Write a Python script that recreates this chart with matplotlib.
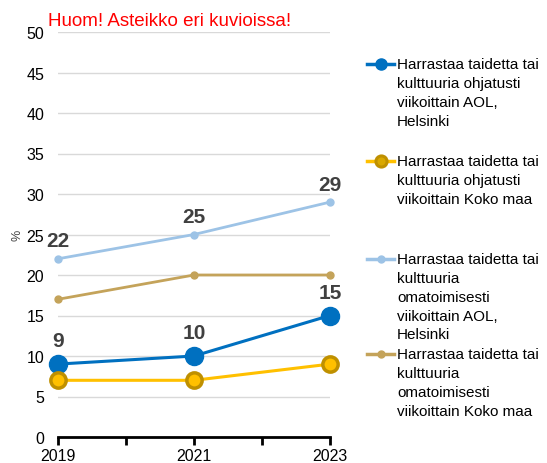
import matplotlib.pyplot as plt
from matplotlib.lines import Line2D

plt.rcParams['font.family'] = ['Liberation Sans', 'DejaVu Sans']

years = [2019, 2021, 2023]
aol_ohjatusti = [9, 10, 15]
koko_ohjatusti = [7, 7, 9]
aol_omatoim = [22, 25, 29]
koko_omatoim = [17, 20, 20]

labels = [
    'Harrastaa taidetta tai\nkulttuuria ohjatusti\nviikoittain AOL,\nHelsinki',
    'Harrastaa taidetta tai\nkulttuuria ohjatusti\nviikoittain Koko maa',
    'Harrastaa taidetta tai\nkulttuuria\nomatoimisesti\nviikoittain AOL,\nHelsinki',
    'Harrastaa taidetta tai\nkulttuuria\nomatoimisesti\nviikoittain Koko maa',
]

blue = '#0070C0'
yellow = '#FFC000'
gold = '#BF9000'
light = '#9DC3E6'
tan = '#C4A35A'

fig = plt.figure(figsize=(5.47, 4.64), dpi=100)
ax = fig.add_axes([58 / 547, 26 / 464, 272 / 547, 405 / 464])

ax.plot(years, aol_omatoim, color=light, lw=2, marker='o', ms=5, clip_on=False, zorder=3)
ax.plot(years, koko_omatoim, color=tan, lw=2, marker='o', ms=5, clip_on=False, zorder=3)
ax.plot(years, aol_ohjatusti, color=blue, lw=2.2, marker='o', ms=13, clip_on=False, zorder=4)
ax.plot(years, koko_ohjatusti, color=yellow, lw=2.2, marker='o', ms=11, mfc=yellow,
        mec=gold, mew=2.5, clip_on=False, zorder=5)

for x, v in zip(years, aol_omatoim):
    ax.annotate(str(v), (x, v), xytext=(0, 6), textcoords='offset points', ha='center',
                va='bottom', fontsize=15, fontweight='bold', color='#404040')
for x, v in zip(years, aol_ohjatusti):
    ax.annotate(str(v), (x, v), xytext=(0, 10), textcoords='offset points', ha='center',
                va='bottom', fontsize=15, fontweight='bold', color='#404040')

ax.set_xlim(2019, 2023)
ax.set_ylim(0, 50)
ax.set_yticks(range(0, 51, 5))
ax.set_xticks([2019, 2020, 2021, 2022, 2023])
ax.set_xticklabels(['2019', '', '2021', '', '2023'])
ax.grid(axis='y', color='#D9D9D9', lw=1)
ax.set_axisbelow(True)
for s in ['top', 'right', 'left']:
    ax.spines[s].set_visible(False)
ax.spines['bottom'].set_linewidth(2)
ax.tick_params(axis='y', length=0, labelsize=11.5, pad=10)
ax.tick_params(axis='x', length=6, width=2, labelsize=11.5, pad=2)
ax.set_ylabel('%', fontsize=9, color='#404040', labelpad=2)

fig.text(48 / 547, 1 - 22 / 464, 'Huom! Asteikko eri kuvioissa!', color='red',
         fontsize=13.5, va='center', ha='left')

# legend drawn by hand
styles = [
    dict(color=blue, lw=2.5, marker='o', ms=8),
    dict(color=yellow, lw=2.5, marker='o', ms=8, mfc='#D9A800', mec=gold, mew=2.2),
    dict(color=light, lw=2.5, marker='o', ms=5),
    dict(color=tan, lw=2.5, marker='o', ms=5),
]
leg_y = [65, 162, 260, 355]
for st, lab, y in zip(styles, labels, leg_y):
    yf = 1 - y / 464
    line_st = {k: v for k, v in st.items() if k in ('color', 'lw')}
    fig.add_artist(Line2D([367 / 547, 394 / 547], [yf, yf], **line_st))
    fig.add_artist(Line2D([381 / 547], [yf], **st))
    fig.text(397 / 547, yf + 7 / 464, lab, fontsize=11, va='top', ha='left',
             linespacing=1.44)

fig.savefig('out.png', dpi=100)
